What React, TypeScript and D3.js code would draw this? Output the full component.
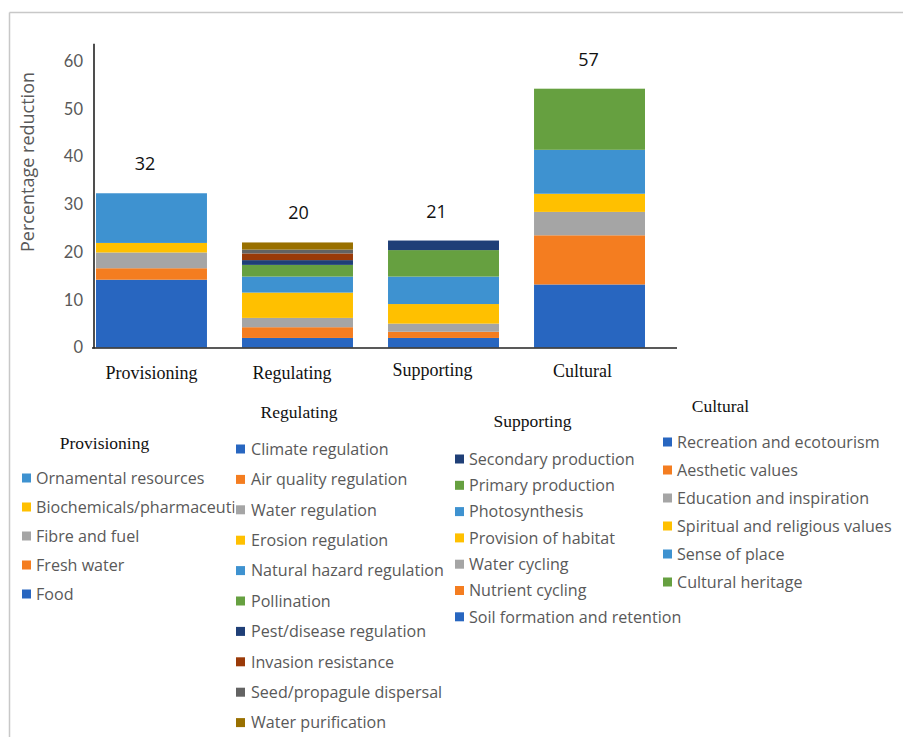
import React from "react";
import * as d3 from "d3";

// ---------- data ----------
const categories = ["Provisioning", "Regulating", "Supporting", "Cultural"];
const totalLabels = ["32", "20", "21", "57"];
const yTicks = [0, 10, 20, 30, 40, 50, 60];
const yAxisMax = 63.6;

const provisioningSeries = ["Food", "Fresh water", "Fibre and fuel", "Biochemicals/pharmaceuti", "Ornamental resources"];
const provisioningValues = [14.2, 2.4, 3.3, 2.0, 10.4];

const regulatingSeries = [
  "Climate regulation",
  "Air quality regulation",
  "Water regulation",
  "Erosion regulation",
  "Natural hazard regulation",
  "Pollination",
  "Pest/disease regulation",
  "Invasion resistance",
  "Seed/propagule dispersal",
  "Water purification",
];
const regulatingValues = [2.0, 2.25, 1.95, 5.3, 3.35, 2.45, 1.0, 1.4, 0.8, 1.5];

const supportingSeries = [
  "Soil formation and retention",
  "Nutrient cycling",
  "Water cycling",
  "Provision of habitat",
  "Photosynthesis",
  "Primary production",
  "Secondary production",
];
const supportingValues = [2.0, 1.3, 1.7, 4.1, 5.75, 5.55, 2.0];

const culturalSeries = [
  "Recreation and ecotourism",
  "Aesthetic values",
  "Education and inspiration",
  "Spiritual and religious values",
  "Sense of place",
  "Cultural heritage",
];
const culturalValues = [13.2, 10.3, 4.9, 3.8, 9.2, 12.8];

const palette = [
  "#2866C0",
  "#F47D20",
  "#A5A5A5",
  "#FFC000",
  "#3E92D0",
  "#66A040",
  "#1F3F77",
  "#9A3A08",
  "#636363",
  "#997000",
];

const groups = [
  { name: categories[0], series: provisioningSeries, values: provisioningValues },
  { name: categories[1], series: regulatingSeries, values: regulatingValues },
  { name: categories[2], series: supportingSeries, values: supportingValues },
  { name: categories[3], series: culturalSeries, values: culturalValues },
];

// ---------- layout ----------
const W = 903;
const H = 737;
const catLabelLayout = [
  { dx: 0, y: 379 },
  { dx: -5.5, y: 379 },
  { dx: -11, y: 376 },
  { dx: -7, y: 377 },
];
const totalLabelDx = [-6.5, 1, -7, -1];
const legendLayout = [
  { titleX: 104.5, titleY: 449, sx: 22, tx: 36, y0: 478, dy: 29, reverse: true, clipW: 200.5 },
  { titleX: 299, titleY: 418, sx: 236, tx: 251, y0: 449, dy: 30.4, reverse: false, clipW: 0 },
  { titleX: 532.5, titleY: 427, sx: 455, tx: 469, y0: 459, dy: 26.3, reverse: true, clipW: 0 },
  { titleX: 720.5, titleY: 412, sx: 663, tx: 677, y0: 442, dy: 28, reverse: false, clipW: 0 },
];

const sans = "Lato, 'Open Sans', sans-serif";
const osans = "'Open Sans', sans-serif";
const serif = "'Liberation Serif', 'Times New Roman', serif";
const grey = "#595959";

export default function App() {
  const x = d3.scaleBand<string>().domain(categories).range([96, 645]).paddingInner(0.24).paddingOuter(0);
  const y = d3.scaleLinear().domain([0, 60]).range([347.5, 61]);

  return (
    <svg width={W} height={H} style={{ position: "absolute", left: 0, top: 0, background: "#fff" }}>
      <defs>
        {legendLayout.map((L, i) =>
          L.clipW > 0 ? (
            <clipPath id={"legclip" + i} key={i}>
              <rect x={L.tx - 2} y={0} width={L.clipW} height={H} />
            </clipPath>
          ) : null
        )}
      </defs>
      {/* frame */}
      <line x1={9.5} y1={12.5} x2={W} y2={12.5} stroke="#c8c8c8" strokeWidth={1.5} />
      <line x1={9.5} y1={12.5} x2={9.5} y2={H} stroke="#c8c8c8" strokeWidth={1.5} />

      {/* bars */}
      {groups.map((g, gi) => {
        const ends = Array.from(d3.cumsum(g.values));
        const x0 = x(g.name)!;
        return (
          <g key={g.name}>
            {g.values.map((v, i) => {
              const top = ends[i];
              const bottom = top - v;
              return (
                <rect
                  key={i}
                  x={x0}
                  y={y(top)}
                  width={x.bandwidth()}
                  height={y(bottom) - y(top)}
                  fill={palette[i]}
                />
              );
            })}
            <text
              x={x0 + x.bandwidth() / 2 + totalLabelDx[gi]}
              y={y(ends[ends.length - 1]) - 23}
              textAnchor="middle"
              fontFamily={osans}
              fontSize={18}
              fill="#111"
            >
              {totalLabels[gi]}
            </text>
            <text
              x={x0 + x.bandwidth() / 2 + catLabelLayout[gi].dx}
              y={catLabelLayout[gi].y}
              textAnchor="middle"
              fontFamily={serif}
              fontSize={18}
              fill="#111"
            >
              {g.name}
            </text>
          </g>
        );
      })}

      {/* axes */}
      <line x1={94} y1={y(yAxisMax)} x2={94} y2={y(0) + 1} stroke="#222" strokeWidth={1.6} />
      <line x1={92} y1={y(0) + 0.5} x2={677} y2={y(0) + 0.5} stroke="#222" strokeWidth={1.6} />
      {yTicks.map((t) => (
        <text
          key={t}
          x={83}
          y={y(t)}
          dy="0.35em"
          textAnchor="end"
          fontFamily={sans}
          fontSize={16.5}
          fill={grey}
        >
          {t}
        </text>
      ))}
      <text
        transform={`translate(34,162) rotate(-90)`}
        textAnchor="middle"
        fontFamily={osans}
        fontSize={18}
        fill={grey}
      >
        Percentage reduction
      </text>

      {/* legends */}
      {groups.map((g, gi) => {
        const L = legendLayout[gi];
        const idx = g.series.map((_, i) => i);
        const order = L.reverse ? idx.slice().reverse() : idx;
        return (
          <g key={"leg" + g.name}>
            <text x={L.titleX} y={L.titleY} textAnchor="middle" fontFamily={serif} fontSize={17.5} fill="#111">
              {g.name}
            </text>
            {order.map((si, row) => {
              const cy = L.y0 + row * L.dy;
              return (
                <g key={si}>
                  <rect x={L.sx} y={cy - 4.5} width={9} height={9} fill={palette[si]} />
                  <text
                    x={L.tx}
                    y={cy}
                    dy="0.36em"
                    fontFamily={osans}
                    fontSize={16.1}
                    fill={grey}
                    clipPath={L.clipW > 0 ? `url(#legclip${gi})` : undefined}
                  >
                    {g.series[si]}
                  </text>
                </g>
              );
            })}
          </g>
        );
      })}
    </svg>
  );
}
